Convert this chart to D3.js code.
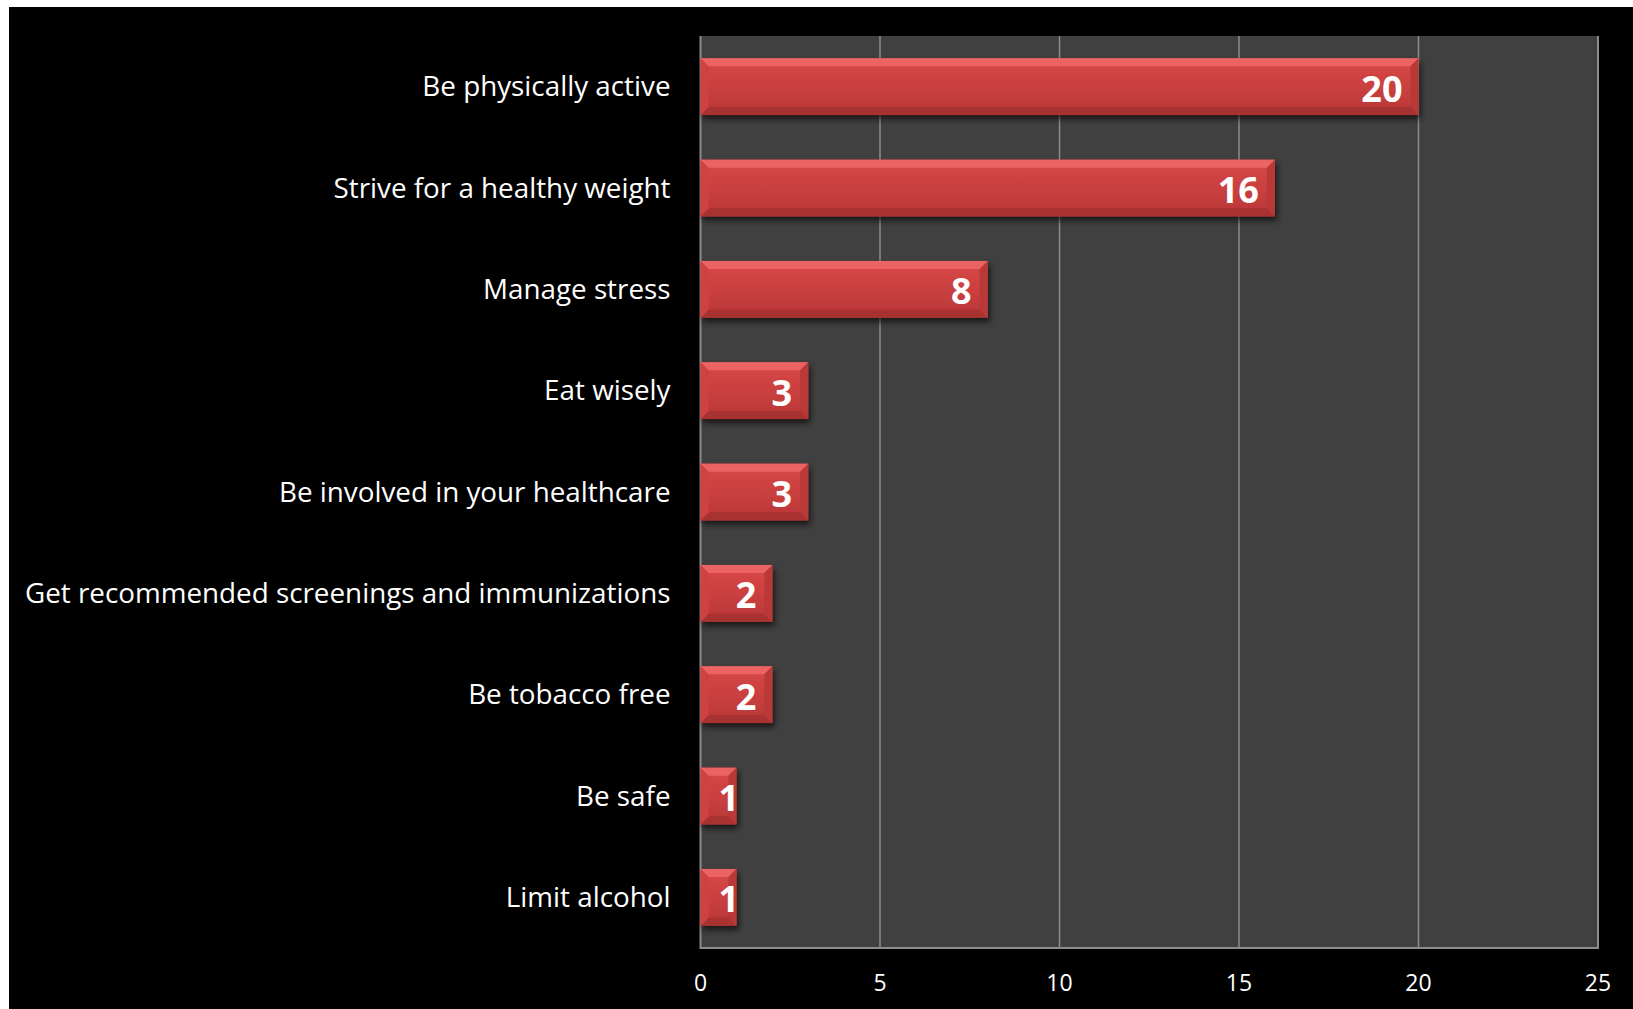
<!DOCTYPE html>
<html>
<head>
<meta charset="utf-8">
<script src="https://cdn.jsdelivr.net/npm/d3@7"></script>
<style>
  html, body { margin: 0; padding: 0; background: #ffffff; }
  svg { display: block; }
</style>
</head>
<body>
<svg id="chart" width="1633" height="1009"></svg>
<script>
// Healthy-habit priorities, counts per habit
const categories = [
  "Be physically active",
  "Strive for a healthy weight",
  "Manage stress",
  "Eat wisely",
  "Be involved in your healthcare",
  "Get recommended screenings and immunizations",
  "Be tobacco free",
  "Be safe",
  "Limit alcohol"
];
const counts = [20, 16, 8, 3, 3, 2, 2, 1, 1];
const tickValues = [0, 5, 10, 15, 20, 25];

const W = 1633, H = 1009;
const plot = { left: 700.5, right: 1598, top: 36, bottom: 948 };

const svg = d3.select("#chart");

// black slide background with a thin white margin on top and left
svg.append("rect").attr("x", 9).attr("y", 7).attr("width", W - 9).attr("height", H - 7).attr("fill", "#000");

const defs = svg.append("defs");
const face = defs.append("linearGradient").attr("id", "barFace")
  .attr("x1", 0).attr("y1", 0).attr("x2", 0).attr("y2", 1);
face.append("stop").attr("offset", "0%").attr("stop-color", "#d94848");
face.append("stop").attr("offset", "55%").attr("stop-color", "#c93f3f");
face.append("stop").attr("offset", "100%").attr("stop-color", "#b73636");

const shadow = defs.append("filter").attr("id", "barShadow")
  .attr("x", "-10%").attr("y", "-20%").attr("width", "130%").attr("height", "160%");
shadow.append("feDropShadow").attr("dx", 2).attr("dy", 4).attr("stdDeviation", 3)
  .attr("flood-color", "#000").attr("flood-opacity", 0.65);

const x = d3.scaleLinear().domain([0, 25]).range([plot.left, plot.right]);
const y = d3.scaleBand().domain(categories).range([plot.top, plot.bottom])
  .paddingInner(0.44).paddingOuter(0.22);

// plot area
svg.append("rect")
  .attr("x", plot.left).attr("y", plot.top)
  .attr("width", plot.right - plot.left).attr("height", plot.bottom - plot.top)
  .attr("fill", "#404040");

// vertical gridlines
svg.append("g").selectAll("line").data(tickValues.filter(v => v > 0 && v < 25)).join("line")
  .attr("x1", d => x(d)).attr("x2", d => x(d))
  .attr("y1", plot.top).attr("y2", plot.bottom)
  .attr("stroke", "#8c8c8c").attr("stroke-width", 1.5);

// plot frame: left, right and bottom edges
const gray = "#8c8c8c";
svg.append("path")
  .attr("d", `M${plot.left},${plot.top}V${plot.bottom}H${plot.right}V${plot.top}`)
  .attr("fill", "none").attr("stroke", gray).attr("stroke-width", 2);

// bevelled bars
const rows = categories.map((c, i) => ({ cat: c, val: counts[i] }));
const bars = svg.append("g").selectAll("g").data(rows).join("g")
  .attr("filter", "url(#barShadow)");

const bev = 8;
bars.each(function (d) {
  const g = d3.select(this);
  const x0 = x(0), x1 = x(d.val), y0 = y(d.cat), y1 = y0 + y.bandwidth();
  const b = Math.min(bev, (x1 - x0) / 3);
  g.append("rect").attr("x", x0).attr("y", y0).attr("width", x1 - x0).attr("height", y1 - y0)
    .attr("fill", "url(#barFace)");
  // top highlight
  g.append("path").attr("d", `M${x0},${y0}H${x1}L${x1 - b},${y0 + b}H${x0 + b}Z`).attr("fill", "#ec6464");
  // bottom shade
  g.append("path").attr("d", `M${x0},${y1}H${x1}L${x1 - b},${y1 - b}H${x0 + b}Z`).attr("fill", "#a83232");
  // left and right sides
  g.append("path").attr("d", `M${x0},${y0}L${x0 + b},${y0 + b}V${y1 - b}L${x0},${y1}Z`).attr("fill", "#cf4343");
  g.append("path").attr("d", `M${x1},${y0}L${x1 - b},${y0 + b}V${y1 - b}L${x1},${y1}Z`).attr("fill", "#b93838");
});

// value labels at the inside end of each bar
const valueLabels = svg.append("g").selectAll("text").data(rows).join("text")
  .attr("font-family", "'Open Sans', sans-serif")
  .attr("font-weight", 700).attr("font-size", 36).attr("fill", "#fff")
  .attr("text-anchor", "end")
  .attr("y", d => y(d.cat) + y.bandwidth() / 2 + 15)
  .text(d => d.val);
valueLabels.attr("x", function (d) {
  const w = this.getComputedTextLength();
  return Math.max(x(d.val) - 16, x(0) + 18 + w);
});

// category labels
svg.append("g").selectAll("text").data(categories).join("text")
  .attr("font-family", "'Open Sans', sans-serif")
  .attr("font-size", 27.8).attr("fill", "#fff")
  .attr("text-anchor", "end")
  .attr("x", plot.left - 30)
  .attr("y", d => y(d) + y.bandwidth() / 2 + 9.5)
  .text(d => d);

// x-axis tick labels
svg.append("g").selectAll("text").data(tickValues).join("text")
  .attr("font-family", "'Open Sans', sans-serif")
  .attr("font-size", 23).attr("fill", "#fff")
  .attr("text-anchor", "middle")
  .attr("x", d => x(d)).attr("y", 991)
  .text(d => d);
</script>
</body>
</html>
